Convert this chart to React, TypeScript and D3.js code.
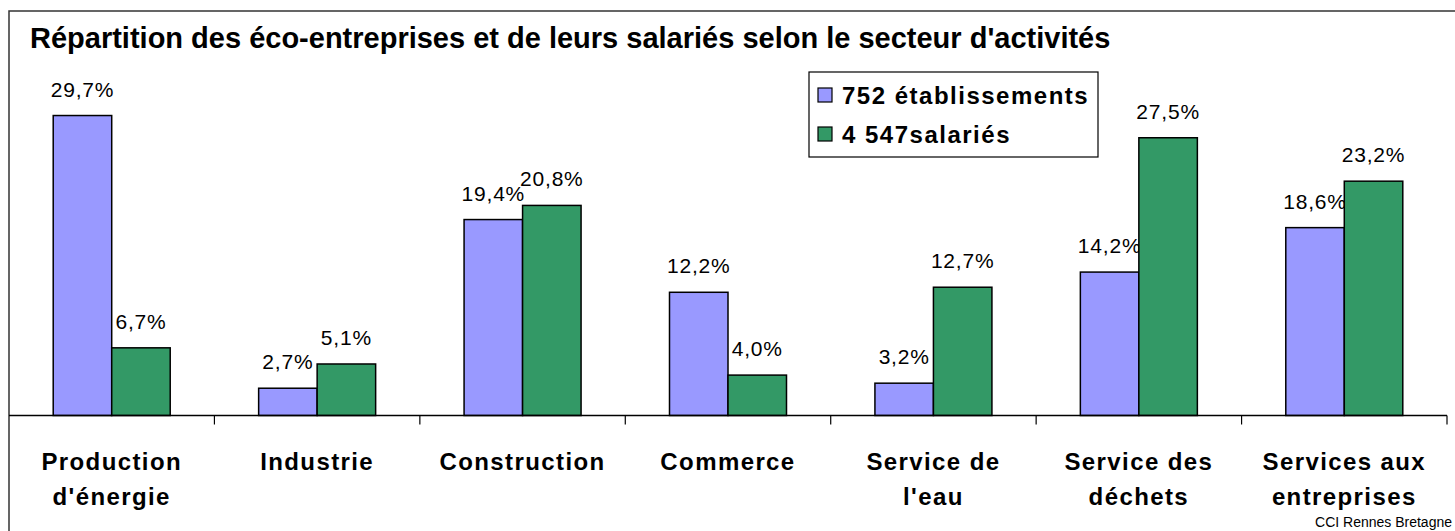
import * as d3 from "d3";

const categories = [
  ["Production", "d'énergie"],
  ["Industrie"],
  ["Construction"],
  ["Commerce"],
  ["Service de", "l'eau"],
  ["Service des", "déchets"],
  ["Services aux", "entreprises"],
];
const seriesNames = ["752 établissements", "4 547salariés"];
const etablissements = [29.7, 2.7, 19.4, 12.2, 3.2, 14.2, 18.6];
const salaries = [6.7, 5.1, 20.8, 4.0, 12.7, 27.5, 23.2];
const colors = ["#9999FF", "#339966"];

const W = 1455;
const H = 531;
const FONT = "'Liberation Sans', Arial, sans-serif";

export default function App() {
  const keys = categories.map((c) => c.join(" "));
  const x = d3.scaleBand().domain(keys).range([9, 1447]).padding(0);
  const y = d3.scaleLinear().domain([0, 35]).range([415.5, 62]);
  // two bars per category, centred on the category
  const inner = d3
    .scaleBand()
    .domain(["0", "1"])
    .range([x.bandwidth() / 2 - 58.5, x.bandwidth() / 2 + 58.5]);
  const fmt = (v: number) => v.toFixed(1).replace(".", ",") + "%";
  const series = [etablissements, salaries];

  return (
    <svg width={W} height={H} style={{ position: "absolute", left: 0, top: 0, background: "#fff" }}>
      <rect width={W} height={H} fill="#fff" />
      {/* outer frame */}
      <path d={`M9,${H} V11 H${W}`} fill="none" stroke="#333" strokeWidth={1.5} />
      <text x={30} y={48} fontFamily={FONT} fontWeight="bold" fontSize={29}>
        Répartition des éco-entreprises et de leurs salariés selon le secteur d'activités
      </text>

      {series.map((vals, si) => (
        <g key={si}>
          {vals.map((v, i) => {
            const bx = (x(keys[i]) ?? 0) + (inner(String(si)) ?? 0);
            return (
              <rect
                key={"r" + i}
                x={bx}
                y={y(v)}
                width={inner.bandwidth()}
                height={y(0) - y(v)}
                fill={colors[si]}
                stroke="#000"
                strokeWidth={1.5}
              />
            );
          })}
          {vals.map((v, i) => {
            const bx = (x(keys[i]) ?? 0) + (inner(String(si)) ?? 0) + inner.bandwidth() / 2;
            return (
              <text
                key={"t" + i}
                x={bx}
                y={y(v) - 19}
                textAnchor="middle"
                fontFamily={FONT}
                fontSize={21}
                letterSpacing={0.8}
              >
                {fmt(v)}
              </text>
            );
          })}
        </g>
      ))}

      {/* axis */}
      <line x1={9} x2={1447} y1={y(0)} y2={y(0)} stroke="#000" strokeWidth={1.5} />
      {keys.map((k) => (
        <line
          key={k}
          x1={(x(k) ?? 0) + x.bandwidth()}
          x2={(x(k) ?? 0) + x.bandwidth()}
          y1={y(0)}
          y2={y(0) + 9}
          stroke="#000"
          strokeWidth={1.2}
        />
      ))}
      {categories.map((lines, i) => (
        <text
          key={i}
          x={(x(keys[i]) ?? 0) + x.bandwidth() / 2}
          textAnchor="middle"
          fontFamily={FONT}
          fontWeight="bold"
          fontSize={24}
          letterSpacing={1.4}
        >
          {lines.map((l, j) => (
            <tspan key={j} x={(x(keys[i]) ?? 0) + x.bandwidth() / 2} y={470 + j * 35}>
              {l}
            </tspan>
          ))}
        </text>
      ))}

      {/* legend */}
      <rect x={809} y={72} width={289} height={85} fill="#fff" stroke="#000" strokeWidth={1.2} />
      {seriesNames.map((n, i) => (
        <g key={n}>
          <rect x={818} y={88 + i * 39} width={14} height={14} fill={colors[i]} stroke="#000" strokeWidth={1.2} />
          <text x={842} y={104 + i * 39} fontFamily={FONT} fontWeight="bold" fontSize={24} letterSpacing={1.5}>
            {n}
          </text>
        </g>
      ))}

      <text x={1452} y={527} textAnchor="end" fontFamily={FONT} fontSize={14}>
        CCI Rennes Bretagne
      </text>
    </svg>
  );
}
